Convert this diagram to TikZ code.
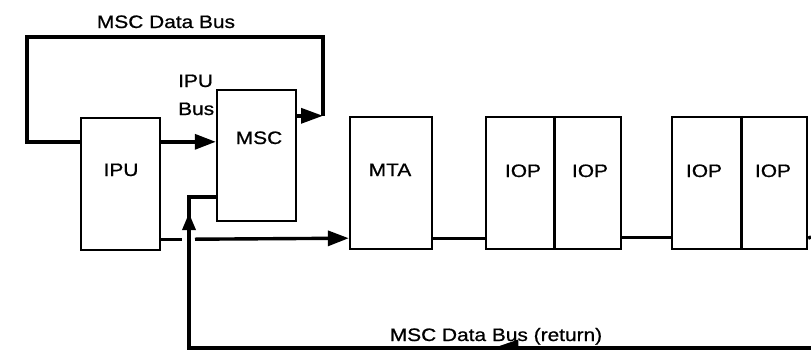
\documentclass[tikz,border=0pt]{standalone}
\usepackage{fontspec}
\setmainfont{Liberation Sans}[FakeStretch=1.16,FakeBold=0.8]
\usetikzlibrary{arrows.meta,decorations.markings}

\begin{document}
\begin{tikzpicture}[x=1pt,y=-1pt,
  unitbox/.style={draw,line width=2.4pt,inner sep=0pt},
  bus/.style={line width=3.4pt},
  tag/.style={font=\fontsize{18}{21}\selectfont,inner sep=0pt,anchor=base},
  head/.style={-{Triangle[length=21pt,width=15pt]}},
]
\useasboundingbox (0,0) rectangle (811,360);

% processing units
\node[unitbox,minimum width=79pt,minimum height=132pt] (ipu) at (120.5,184) {};
\node[unitbox,minimum width=79pt,minimum height=131pt] (msc) at (256.5,155.5) {};
\node[unitbox,minimum width=82pt,minimum height=132pt] (mta) at (391,183) {};
\node[unitbox,minimum width=68pt,minimum height=132pt] (iopa) at (520,183) {};
\node[unitbox,minimum width=67pt,minimum height=132pt] (iopb) at (587.5,183) {};
\node[unitbox,minimum width=69pt,minimum height=132pt] (iopc) at (706.5,183) {};
\node[unitbox,minimum width=66pt,minimum height=132pt] (iopd) at (774,183) {};

\node[tag] (ipuT) at (121,176) {IPU};
\node[tag] (mscT) at (259,144) {MSC};
\node[tag] (mtaT) at (390,176) {MTA};
\node[tag] (iopaT) at (523,177) {IOP};
\node[tag] (iopbT) at (590,177) {IOP};
\node[tag] (iopcT) at (704,177) {IOP};
\node[tag] (iopdT) at (773,177) {IOP};

% bus labels
\node[tag] (busTop) at (166,28) {MSC Data Bus};
\node[tag,anchor=base west] (ipuBusA) at (178,87) {IPU};
\node[tag,anchor=base west] (ipuBusB) at (178,115) {Bus};
\node[tag] (busRet) at (496,341) {MSC Data Bus (return)};

% routing points
\coordinate (loopL) at (27,37);
\coordinate (loopR) at (323,37);
\coordinate (riser) at (189,197);
\coordinate (retR) at (811,348);
\coordinate (retL) at (189,348);
\coordinate (chainR) at (811,237);

% MSC data bus loop back to the IPU
\draw[bus] ([shift={(0,25)}]ipu.north west) -| (loopL) -- (loopR)
  -- ([shift={(0,27)}]msc.north east -| loopR);
\draw[bus,-{Triangle[length=22pt,width=15pt]}] ([shift={(0,27)}]msc.north east)
  -- ([shift={(0,27)}]msc.north east -| loopR);

% IPU bus
\draw[bus,head] ([shift={(0,25)}]ipu.north east) -- ([shift={(0,53)}]msc.north west);

% IPU to MTA, broken where the return line crosses
\draw[bus] ([shift={(0,-12)}]ipu.south east) -- ([shift={(-7,-12)}]ipu.south east -| riser);
\draw[bus,head] ([shift={(6,-12)}]ipu.south east -| riser) -- ([shift={(0,-12)}]mta.south west);

% channel chain through the IOPs
\draw[bus] ([shift={(0,-12)}]mta.south east) -- ([shift={(0,-12)}]iopa.south west);
\draw[line width=2.4pt] (iopa.north east) -- (iopa.south east);
\draw[bus] ([shift={(0,-13)}]iopb.south east) -- ([shift={(0,-13)}]iopc.south west);
\draw[line width=2.4pt] (iopc.north east) -- (iopc.south east);
\draw[bus] ([shift={(0,-12)}]iopd.south east) -- (chainR);

% return path into the MSC
\draw[bus,postaction={decorate},decoration={markings,
    mark=at position 323pt with {\arrow{Triangle[harpoon,swap,length=25pt,width=16pt]}},
    mark=at position 757pt with {\arrow{Triangle[length=17pt,width=13pt]}}}]
  (retR) -- (retL) -- (riser) -- (msc.west |- riser);
\end{tikzpicture}
\end{document}
